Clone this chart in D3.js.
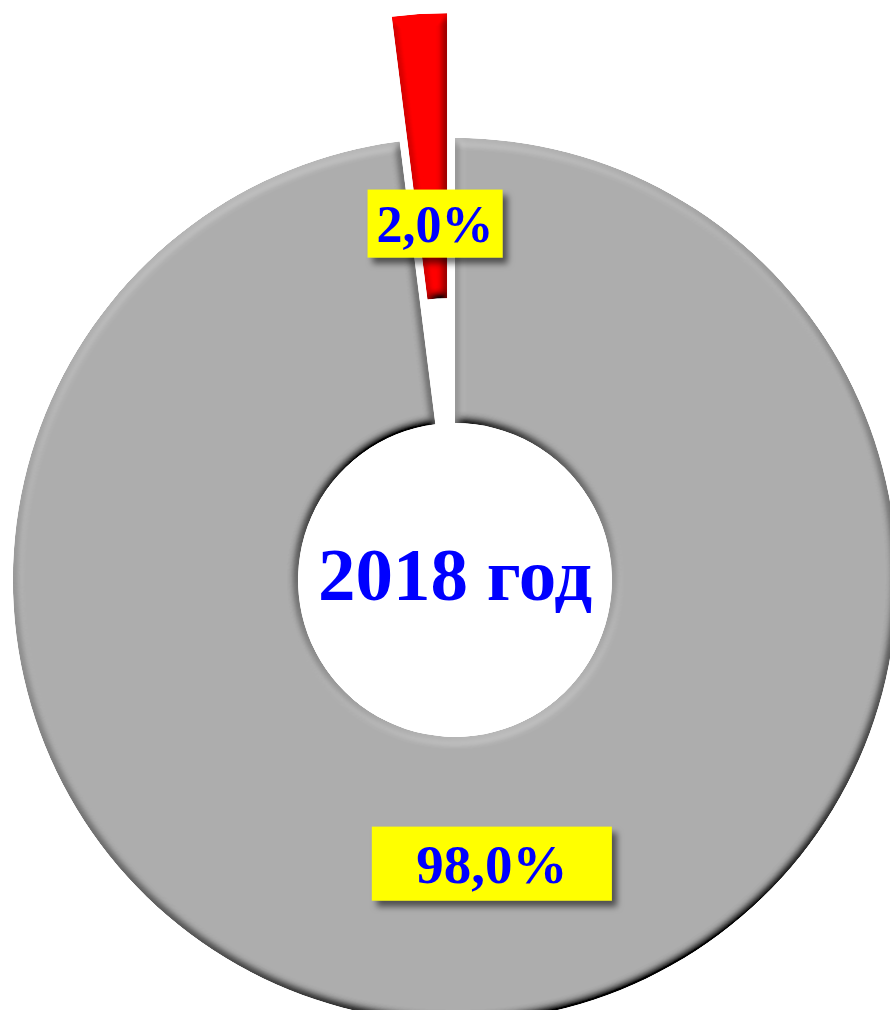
<!DOCTYPE html>
<html><head><meta charset="utf-8">
<script src="https://cdn.jsdelivr.net/npm/d3@7"></script>
<style>html,body{margin:0;padding:0;background:#fff;overflow:hidden}</style>
</head><body>
<svg id="chart" width="890" height="1010"></svg>
<script>
const categories = ["Доля A", "Доля B"];
const values = [2.0, 98.0];
const labels = ["2,0%", "98,0%"];
const centerTitle = "2018 год";

const W = 890, H = 1010;
const cx = 455, cy = 580, rOuter = 442, rInner = 157;
const colors = ["#ff0000", "#adadad"];
const explode = [125, 0];
// label box: radius from centre, angle tweak (deg), width, height, font size
const labelCfg = [
  {r: 357, da: 0.4, w: 135, h: 68, fs: 52},
  {r: 286, da: -3.8, w: 240, h: 74, fs: 55}
];

const svg = d3.select("#chart");
const defs = svg.append("defs");

const bevel = defs.append("filter").attr("id", "bevel")
  .attr("x", "-5%").attr("y", "-5%").attr("width", "110%").attr("height", "110%");
bevel.append("feGaussianBlur").attr("in", "SourceAlpha").attr("stdDeviation", 5).attr("result", "blur");
const diff = bevel.append("feDiffuseLighting").attr("in", "blur").attr("surfaceScale", 9)
  .attr("diffuseConstant", 1).attr("lighting-color", "#fff").attr("result", "light");
diff.append("feDistantLight").attr("azimuth", 250).attr("elevation", 55);
bevel.append("feComposite").attr("in", "SourceGraphic").attr("in2", "light")
  .attr("operator", "arithmetic").attr("k1", 1.22).attr("k2", 0).attr("k3", 0).attr("k4", 0).attr("result", "lit");
bevel.append("feComposite").attr("in", "lit").attr("in2", "SourceAlpha").attr("operator", "in");

const shadow = defs.append("filter").attr("id", "shadow")
  .attr("x", "-20%").attr("y", "-20%").attr("width", "140%").attr("height", "150%");
shadow.append("feDropShadow").attr("dx", 5).attr("dy", 6).attr("stdDeviation", 3)
  .attr("flood-color", "#000").attr("flood-opacity", 0.55);

const pie = d3.pie().sort(null)
  .startAngle(-2 * Math.PI * values[0] / d3.sum(values))
  .endAngle(2 * Math.PI - 2 * Math.PI * values[0] / d3.sum(values));
const arcs = pie(values);
const arc = d3.arc().innerRadius(rInner).outerRadius(rOuter);

const g = svg.append("g").attr("transform", `translate(${cx},${cy})`);

const order = [1, 0];
order.forEach(i => {
  const a = arcs[i];
  const mid = (a.startAngle + a.endAngle) / 2;
  const dx = Math.sin(mid) * explode[i], dy = -Math.cos(mid) * explode[i];
  g.append("path").attr("d", arc(a))
    .attr("transform", `translate(${dx},${dy})`)
    .attr("fill", colors[i]).attr("filter", "url(#bevel)");
});

g.append("text").attr("x", 0).attr("y", 20)
  .attr("text-anchor", "middle")
  .attr("font-family", "'Liberation Serif','Times New Roman',serif")
  .attr("font-weight", "bold").attr("font-size", 75).attr("fill", "#0000ff")
  .text(centerTitle);

arcs.forEach((a, i) => {
  const c = labelCfg[i];
  const mid = (a.startAngle + a.endAngle) / 2 + c.da * Math.PI / 180;
  const lx = Math.sin(mid) * c.r, ly = -Math.cos(mid) * c.r;
  const lg = g.append("g").attr("transform", `translate(${lx},${ly})`);
  lg.append("rect").attr("x", -c.w / 2).attr("y", -c.h / 2).attr("width", c.w).attr("height", c.h)
    .attr("fill", "#ffff00").attr("filter", "url(#shadow)");
  lg.append("text").attr("x", 0).attr("y", c.fs * 0.36)
    .attr("text-anchor", "middle")
    .attr("font-family", "'Liberation Serif','Times New Roman',serif")
    .attr("font-weight", "bold").attr("font-size", c.fs).attr("fill", "#0000ff")
    .text(labels[i]);
});
</script>
</body></html>
